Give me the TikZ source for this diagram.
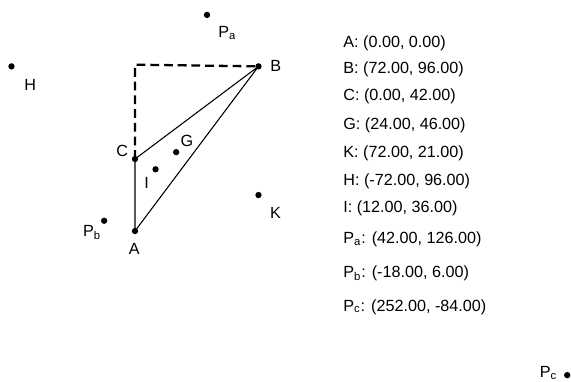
\documentclass[tikz,border=0pt]{standalone}
\usepackage{fontspec}
\setmainfont{Liberation Sans}
\usetikzlibrary{positioning}

\tikzset{
  pt/.style={circle, fill, inner sep=0pt, minimum size=3.6pt},
  side/.style={line width=0.6pt},
  guide/.style={line width=1.3pt, dash pattern=on 5pt off 2.8pt},
  coords/.style={anchor=west, inner sep=0pt},
  tag/.style={anchor=center, inner sep=0pt},
}

\begin{document}
\begin{tikzpicture}[x=0.0343cm, y=0.0343cm, font=\fontsize{9.2}{11}\selectfont]
    \useasboundingbox (-78.7,-88) rectangle (254.2,134.7);

    % points
    \node[pt, label={[tag, label distance=8.2pt]-92:A}] (A) at (0,0) {};
    \node[pt, label={[tag, label distance=7.9pt]0:B}] (B) at (72,96) {};
    \node[pt, label={[tag, label distance=6.5pt]148:C}] (C) at (0,42) {};
    \node[pt, label={[tag, label distance=6.9pt]46:G}] (G) at (24,46) {};
    \node[pt, label={[tag, label distance=12pt]-46:K}] (K) at (72,21) {};
    \node[pt, label={[tag, label distance=13pt]-45:H}] (H) at (-72,96) {};
    \node[pt, label={[tag, label distance=7.3pt]-123:I}] (I) at (12,36) {};
    \node[pt, label={[tag, label distance=13.5pt]-42:P\textsubscript{a}}] (Pa) at (42,126) {};
    \node[pt, label={[tag, label distance=7.6pt]-135:P\textsubscript{b}}] (Pb) at (-18,6) {};
    \node[pt, label={[tag, label distance=8.7pt]174:P\textsubscript{c}}] (Pc) at (252,-84) {};
    \coordinate (D) at (0,97);

    % triangle and guide
    \draw[side] (A.center) -- (B.center) -- (C.center) -- cycle;
    \draw[guide] (C.center) -- (D) -- (B);

    % coordinate list
    \node[coords] (tA) at (121.3,109.6) {A: (0.00, 0.00)};
    \node[coords] (tB) at (121.3,94.5) {B: (72.00, 96.00)};
    \node[coords] (tC) at (121.3,78.7) {C: (0.00, 42.00)};
    \node[coords] (tG) at (121.3,61.8) {G: (24.00, 46.00)};
    \node[coords] (tK) at (121.3,45.5) {K: (72.00, 21.00)};
    \node[coords] (tH) at (121.3,29.2) {H: (-72.00, 96.00)};
    \node[coords] (tI) at (121.3,13.4) {I: (12.00, 36.00)};
    \node[coords] (tPa) at (121.3,-4.7) {P\textsubscript{a}: (42.00, 126.00)};
    \node[coords] (tPb) at (121.3,-24.5) {P\textsubscript{b}: (-18.00, 6.00)};
    \node[coords] (tPc) at (121.3,-44.3) {P\textsubscript{c}: (252.00, -84.00)};
\end{tikzpicture}
\end{document}
